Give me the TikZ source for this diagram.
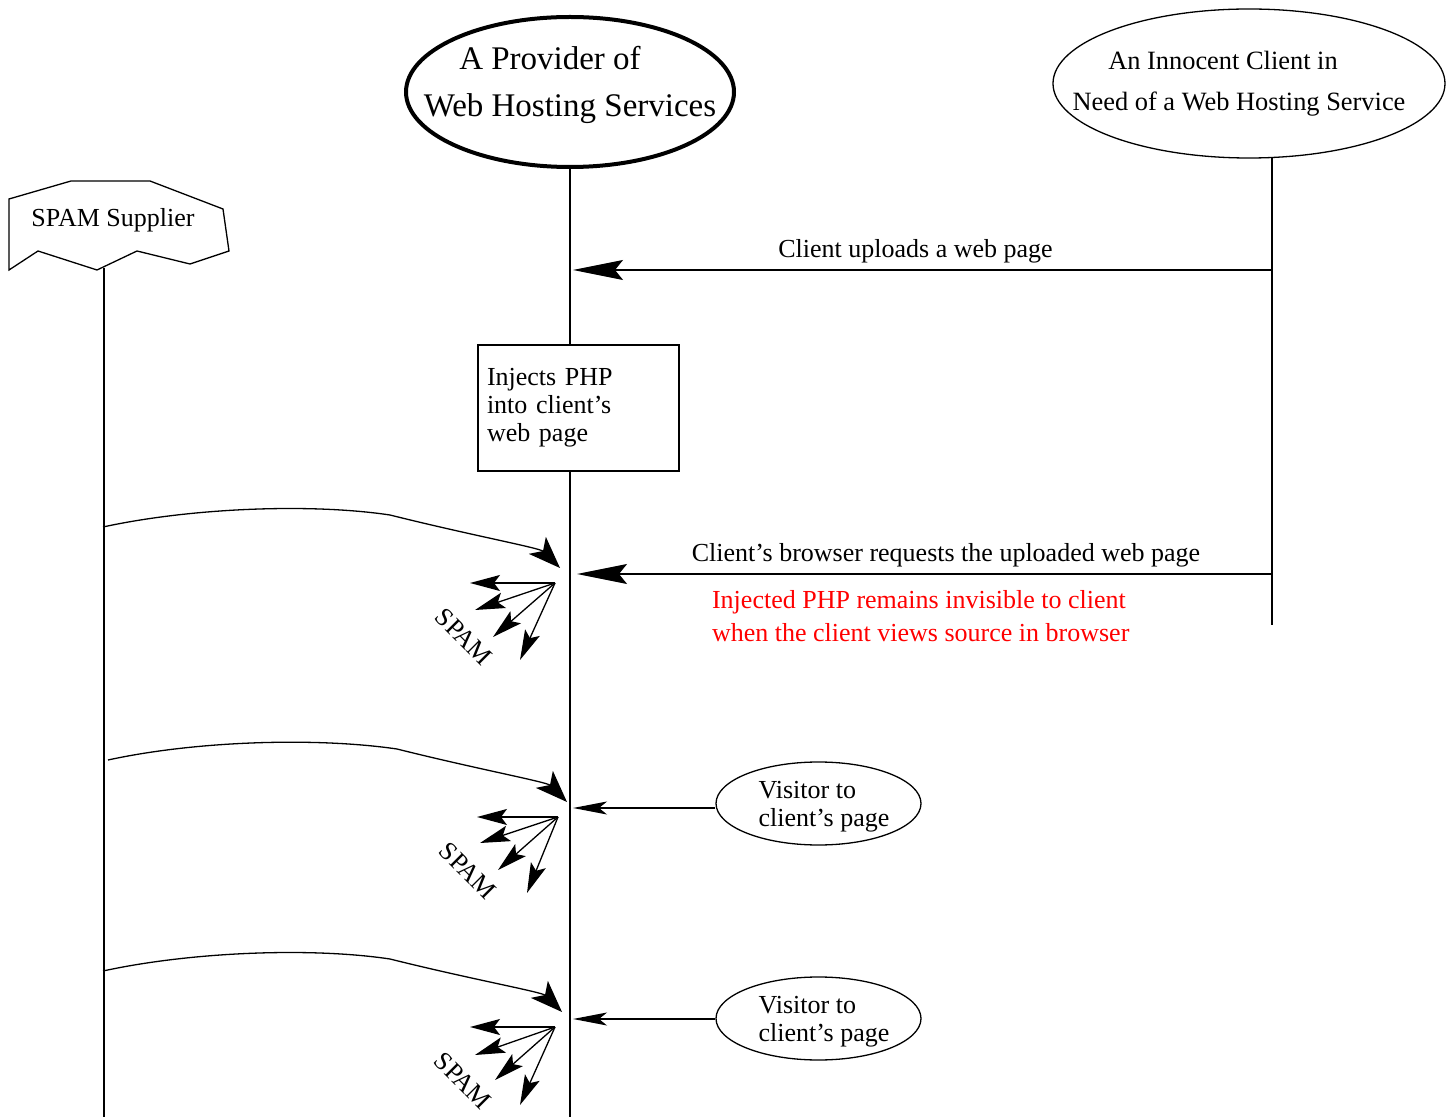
\documentclass[tikz,border=0pt]{standalone}
\usepackage{fontspec}
\setmainfont{Liberation Serif}
\usetikzlibrary{shapes.geometric, arrows.meta, positioning}

\begin{document}
\begin{tikzpicture}[x=0.5pt, y=-0.5pt,
    lifeline/.style={line width=0.65pt},
    actor/.style={ellipse, draw, line width=0.65pt, inner sep=0pt, align=center},
    txt/.style={font=\fontsize{13}{14}\selectfont},
    msg/.style={lifeline, -{Stealth[length=25pt, width=10pt, inset=4pt]}},
    visit/.style={lifeline, -{Stealth[length=17pt, width=6.5pt, inset=4pt]}},
    spamflow/.style={lifeline, -{Stealth[length=16pt, width=12pt, inset=4pt]}},
    spamout/.style={lifeline, -{Stealth[length=15pt, width=8pt, inset=3pt]}}]

    \useasboundingbox (0,0) rectangle (1452,1117);

    % Actors
    \node[actor, line width=2pt, minimum width=164pt, minimum height=75pt] (provider) at (570,92) {};
    \node[font=\fontsize{16.5}{23.5}\selectfont, align=center] (providertxt) at (570,85)
        {\hspace*{-20pt}A Provider of\\Web Hosting Services};
    \node[actor, minimum width=196pt, minimum height=74.5pt] (client) at (1249,83.5) {};
    \node[font=\fontsize{13.2}{20.5}\selectfont, align=center] (clienttxt) at (1239,84)
        {\hspace*{-16pt}An Innocent Client in\\Need of a Web Hosting Service};
    \draw[lifeline] (9,199) -- (71,181) -- (150,181) -- (223,209) -- (229,251) -- (190,264)
        -- (137,251) -- (97,270) -- (38,251) -- (9,270) -- cycle;
    \node[txt] (supplier) at (113,220) {SPAM Supplier};

    % Lifelines
    \node[draw, lifeline, txt, minimum width=100.5pt, minimum height=63pt, text width=91.5pt,
          inner xsep=4.5pt, align=left] (inject) at (578.5,408) {Injects PHP\\into client's\\web page};
    \coordinate (supbot) at (104,268);
    \coordinate (supend) at (104,1117);
    \coordinate (provend) at (570,1117);
    \coordinate (clitop) at (1272,157);
    \coordinate (cliend) at (1272,625);
    \draw[lifeline] (supbot) -- (supend);
    \draw[lifeline] (provider.south) -- (provider.south |- inject.north);
    \draw[lifeline] (provend |- inject.south) -- (provend);
    \draw[lifeline] (clitop) -- (cliend);

    % Client messages
    \coordinate (up1) at (1272,270);
    \coordinate (up2) at (573,270);
    \draw[msg] (up1) -- node[txt, above, pos=0.51] {Client uploads a web page} (up2);
    \coordinate (req1) at (1272,574);
    \coordinate (req2) at (577,574);
    \draw[msg] (req1) -- node[txt, above, pos=0.469] {Client's browser requests the uploaded web page} (req2);
    \node[txt, font=\fontsize{13}{16.5}\selectfont, text=red, align=left, anchor=west] (note) at (705,616)
        {Injected PHP remains invisible to client\\when the client views source in browser};

    % Visitors
    \node[actor, txt, align=left, minimum width=102.5pt, minimum height=41.5pt] (visitor1) at (818.5,803.5) {};
    \node[txt, align=left] (visit1txt) at (824,807) {Visitor to\\client's page};
    \node[actor, txt, align=left, minimum width=102.5pt, minimum height=41.5pt] (visitor2) at (818.5,1018.5) {};
    \node[txt, align=left] (visit2txt) at (824,1022) {Visitor to\\client's page};
    \coordinate (pv1) at (573,808);
    \coordinate (pv2) at (573,1019);
    \draw[visit] (visitor1.west |- pv1) -- (pv1);
    \draw[visit] (visitor2.west |- pv2) -- (pv2);

    % SPAM runs 1
    \coordinate (s1) at (103,527);
    \coordinate (h1) at (560,568);
    \draw[spamflow] (s1) .. controls (190,508) and (310,503) .. (390,515) .. controls (470,535) and (540,548) .. (h1);
    \coordinate (f1) at (555,583);
    \coordinate (f1a) at (470,583);
    \coordinate (f1b) at (475,610);
    \coordinate (f1c) at (493,637);
    \coordinate (f1d) at (520,660);
    \draw[spamout] (f1) -- (f1a);
    \draw[spamout] (f1) -- (f1b);
    \draw[spamout] (f1) -- (f1c);
    \draw[spamout] (f1) -- (f1d);
    \node[txt, rotate=-45] (spam1) at (464,637) {SPAM};

    % SPAM runs 2
    \coordinate (s2) at (108,760);
    \coordinate (h2) at (567,802);
    \draw[spamflow] (s2) .. controls (195,741) and (315,737) .. (397,749) .. controls (477,769) and (547,782) .. (h2);
    \coordinate (f2) at (558,817);
    \coordinate (f2a) at (477,817);
    \coordinate (f2b) at (480,843);
    \coordinate (f2c) at (498,870);
    \coordinate (f2d) at (527,893);
    \draw[spamout] (f2) -- (f2a);
    \draw[spamout] (f2) -- (f2b);
    \draw[spamout] (f2) -- (f2c);
    \draw[spamout] (f2) -- (f2d);
    \node[txt, rotate=-45] (spam2) at (468,871) {SPAM};

    % SPAM runs 3
    \coordinate (s3) at (103,971);
    \coordinate (h3) at (562,1012);
    \draw[spamflow] (s3) .. controls (190,952) and (310,947) .. (390,959) .. controls (470,979) and (542,992) .. (h3);
    \coordinate (f3) at (555,1027);
    \coordinate (f3a) at (470,1027);
    \coordinate (f3b) at (475,1055);
    \coordinate (f3c) at (495,1080);
    \coordinate (f3d) at (520,1105);
    \draw[spamout] (f3) -- (f3a);
    \draw[spamout] (f3) -- (f3b);
    \draw[spamout] (f3) -- (f3c);
    \draw[spamout] (f3) -- (f3d);
    \node[txt, rotate=-45] (spam3) at (463,1081) {SPAM};
\end{tikzpicture}
\end{document}
